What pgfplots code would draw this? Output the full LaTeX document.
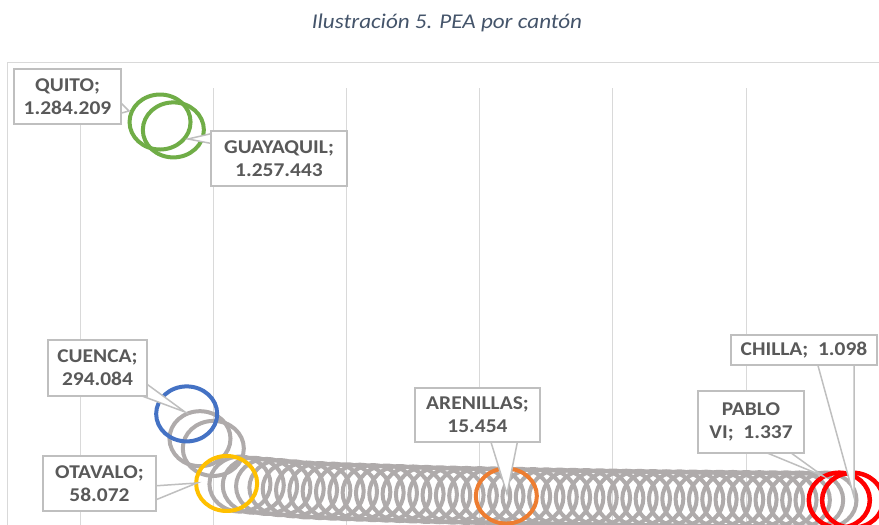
\documentclass[border=0pt]{standalone}
\usepackage{pgfplots}
\pgfplotsset{compat=1.18}
\usepackage{fontspec}
\setmainfont{Carlito}
\newfontfamily\labfont[FakeStretch=1.1]{Carlito}
\newfontfamily\titfont[FakeStretch=1.1]{Carlito}
\definecolor{ringgray}{HTML}{AFABAB}
\definecolor{gridgray}{HTML}{D9D9D9}
\definecolor{boxgray}{HTML}{BFBFBF}
\definecolor{labtext}{HTML}{595959}
\definecolor{titcol}{HTML}{44546A}
\definecolor{cgreen}{HTML}{70AD47}
\definecolor{cblue}{HTML}{4472C4}
\definecolor{cyellow}{HTML}{FFC000}
\definecolor{corange}{HTML}{ED7D31}
\definecolor{cred}{HTML}{FF0000}
\pgfplotsset{ring/.style={only marks, mark=o, mark size=27.5pt,
  mark options={xscale=1.11, line width=#1, solid}}}
\begin{document}
\begin{tikzpicture}
\useasboundingbox (0,0) rectangle (879pt,525pt);
\begin{axis}[
  at={(7pt,0pt)}, anchor=south west,
  scale only axis, width=872pt, height=437pt,
  xmin=-10.49, xmax=54.98, ymin=-82768, ymax=1399593,
  axis line style={draw=none},
  xtick={-5,5,15,25,35,45}, ytick=\empty,
  xticklabels={}, major tick length=0pt,
  xmajorgrids, grid style={color=gridgray, line width=1pt},
  clip=true,
]
\addplot[ring=4pt, color=ringgray] table {
x y
4 210000
5 177000
7 56000
8 52000
9 48000
10 44000
11 40000
12 36000
13 34000
14 32000
15 30000
16 28500
17 27000
18 25500
19 24000
20 22500
21 21000
22 19800
23 18600
24 17500
25 16800
26 16000
28 14500
29 13500
30 12600
31 11800
32 11000
33 10200
34 9500
35 8800
36 8100
37 7500
38 6900
39 6300
40 5800
41 5300
42 4800
43 4300
44 3900
45 3500
46 3100
47 2700
48 2400
49 2100
50 1800
51 1550
};
\addplot[ring=4pt, color=cgreen] table {
x y
1 1284209
2 1257443
};
\addplot[ring=4pt, color=cblue] table {
x y
3 294084
};
\addplot[ring=4pt, color=cyellow] table {
x y
6 58072
};
\addplot[ring=4pt, color=corange] table {
x y
27 15454
};
\addplot[ring=4.5pt, color=cred] table {
x y
52 1337
53 1098
};
\end{axis}
% chart area border
\draw[gridgray, line width=1pt] (7pt,0pt) -- (7pt,462pt) -- (880pt,462pt);
% title
\node[font={\titfont\itshape\fontsize{21}{25}\selectfont}, text=titcol] at (447pt,502pt) {Ilustración 5. PEA por cantón};
% callouts
\begin{scope}[x=1pt, y=-1pt, shift={(0pt,525pt)},
  cb/.style={draw=boxgray, fill=white, line width=1.5pt, line join=miter},
  cn/.style={draw=boxgray, fill=white, line width=1.5pt, inner sep=0pt, align=center,
    text=labtext, font={\labfont\bfseries\fontsize{19.5}{23}\selectfont}}]
  % QUITO
  \filldraw[cb] (118,100) -- (129,111) -- (118,114) -- cycle;
  \node[cn, minimum width=107pt, minimum height=55pt] at (67.5,96.5) {QUITO;\\1.284.209};
  % GUAYAQUIL
  \filldraw[cb] (214,133) -- (188,139) -- (214,144) -- cycle;
  \node[cn, minimum width=136pt, minimum height=55pt] at (279,158.5) {GUAYAQUIL;\\1.257.443};
  % CUENCA
  \filldraw[cb] (144,382) -- (185,412) -- (134,393) -- cycle;
  \node[cn, minimum width=99pt, minimum height=56pt] at (97.5,368) {CUENCA;\\294.084};
  % OTAVALO
  \filldraw[cb] (153,486) -- (197,483) -- (153,501) -- cycle;
  \node[cn, minimum width=113pt, minimum height=55pt] at (99.5,483.5) {OTAVALO;\\58.072};
  % ARENILLAS
  \filldraw[cb] (490,439) -- (507,494) -- (518,439) -- cycle;
  \node[cn, minimum width=125pt, minimum height=54pt] at (477.5,415) {ARENILLAS;\\15.454};
  % PABLO VI
  \filldraw[cb] (760,450) -- (823,476) -- (787,450) -- cycle;
  \node[cn, minimum width=106pt, minimum height=62pt] at (751,422) {PABLO\\VI;\ \ 1.337};
  % CHILLA
  \filldraw[cb] (817,362) -- (854,497) -- (854,362) -- cycle;
  \node[cn, minimum width=146pt, minimum height=30pt] at (804,350) {CHILLA;\ \ 1.098};
\end{scope}
\end{tikzpicture}
\end{document}
